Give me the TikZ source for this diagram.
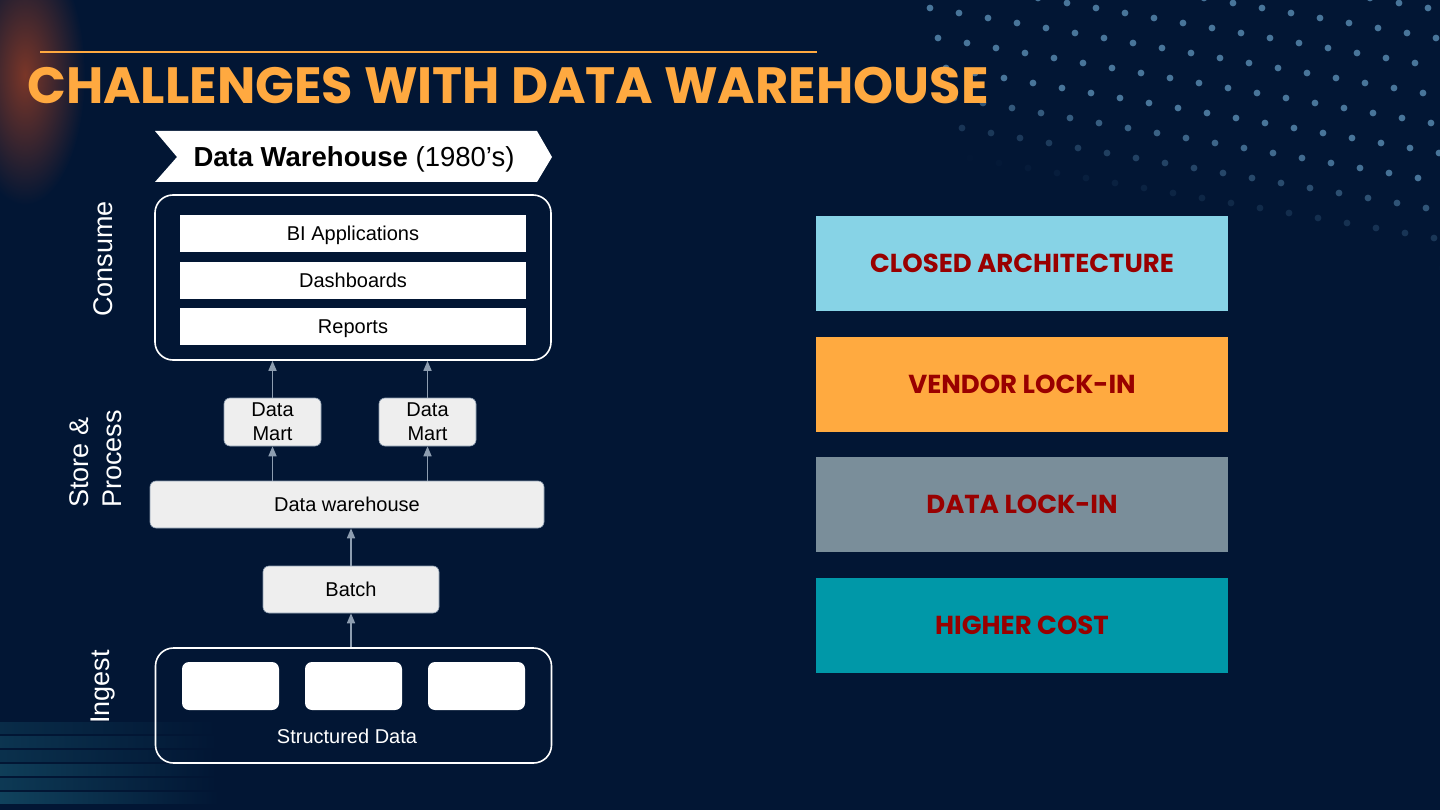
\documentclass[tikz,border=0pt]{standalone}
\usepackage{fontspec}
\setmainfont{Liberation Sans}
\newfontfamily\headfont{Poppins}
\usetikzlibrary{arrows.meta}
\definecolor{bgnavy}{HTML}{021634}
\definecolor{titleorange}{HTML}{FFA940}
\definecolor{lockred}{HTML}{990000}
\definecolor{boxgrey}{HTML}{EEEEEE}
\definecolor{arrowgrey}{HTML}{8D9DB0}
\definecolor{dotblue}{HTML}{5A8DB4}
\definecolor{glowred}{HTML}{7A3628}
\definecolor{stripeteal}{HTML}{1F6F86}
\definecolor{capblue}{HTML}{87D3E6}
\definecolor{caporange}{HTML}{FFAA40}
\definecolor{capgrey}{HTML}{7A8E9A}
\definecolor{capteal}{HTML}{0098A8}
\newcommand{\ChallengeBox}[4]{%
  \node[challenge,fill=#2] (#1) at (1022,#3) {#4};
}

\begin{document}
\begin{tikzpicture}[x=1pt,y=-1pt,
    layer/.style={draw=white,line width=1.6pt,rounded corners=18pt,
      minimum width=396pt},
    tool/.style={fill=white,minimum width=346pt,minimum height=37pt,
      inner sep=0pt,text height=14.3pt,text depth=0pt,
      font=\fontsize{20}{24}\selectfont},
    stage/.style={fill=boxgrey,draw=arrowgrey,line width=0.6pt,
      rounded corners=6pt,inner sep=0pt,minimum height=47pt,align=center,
      font=\fontsize{20}{24}\selectfont},
    source/.style={fill=white,rounded corners=7pt,minimum width=97pt,
      minimum height=48pt},
    flow/.style={draw=arrowgrey,line width=1.6pt,
      -{Triangle[length=10pt,width=8pt,fill=arrowgrey]}},
    sidelabel/.style={white,rotate=90,align=left,inner sep=0pt,
      font=\fontsize{27}{33}\selectfont},
    challenge/.style={minimum width=412pt,minimum height=95pt,inner sep=0pt,
      text=lockred,font=\headfont\bfseries\fontsize{26}{30}\selectfont}]
    \useasboundingbox (0,0) rectangle (1440,810);
    \clip (0,0) rectangle (1440,810);
    \fill[bgnavy] (0,0) rectangle (1440,810);

    % background decoration
    \shade[inner color=glowred,outer color=bgnavy] (25,75) ellipse [x radius=60, y radius=130];
    \foreach \sy/\sop in {722/0.25,736/0.35,750/0.3,764/0.45,778/0.4,792/0.5} {
      \shade[left color=stripeteal,right color=bgnavy,opacity=\sop] (0,\sy) rectangle (220,\sy+11);
    }
    \foreach \r in {-4,...,9}
      \foreach \c in {0,...,18} {
        \pgfmathsetmacro{\dx}{930+29*\c+8*\r}
        \pgfmathsetmacro{\dy}{8+30*\r+5*\c}
        \pgfmathsetmacro{\op}{min(0.8,max(0,(150+0.235*(\dx-930)-\dy)/110))}
        \fill[dotblue,opacity=\op] (\dx,\dy) circle (3.4);
      }

    % title
    \draw[titleorange,line width=2pt] (40,52) -- (817,52);
    \node[anchor=base west,inner sep=0pt,text=titleorange,
      font=\headfont\bfseries\fontsize{51}{58}\selectfont] (title) at (27,104)
      {CHALLENGES WITH DATA WAREHOUSE};

    % banner
    \fill[white] (155,131) -- (537,131) -- (552,157) -- (537,182)
      -- (155,182) -- (177,157) -- cycle;
    \node[anchor=base,font=\fontsize{27.5}{32}\selectfont] (banner) at (354,167)
      {\textbf{Data Warehouse} (1980's)};

    % consume
    \node[layer,minimum height=165pt] (consume) at (353,277.5) {};
    \node[tool] (bi) at (353,233.5) {BI Applications};
    \node[tool] (dash) at (353,280.5) {Dashboards};
    \node[tool] (rep) at (353,326.5) {Reports};

    % store & process
    \node[stage,minimum width=97pt,minimum height=48pt] (mart1) at (272.5,422) {Data\\Mart};
    \node[stage,minimum width=97pt,minimum height=48pt] (mart2) at (427.5,422) {Data\\Mart};
    \node[stage,minimum width=394pt,text height=14.3pt,text depth=0pt] (dwh) at (347,504.5) {Data warehouse};
    \node[stage,minimum width=176pt,text height=14.3pt,text depth=0pt] (batch) at (351,589.5) {Batch};

    % ingest
    \node[layer,minimum height=115pt] (ingest) at (353.5,705.5) {};
    \node[source] (src1) at (230.5,686) {};
    \node[source] (src2) at (353.5,686) {};
    \node[source] (src3) at (476.5,686) {};
    \node[white,font=\fontsize{20}{24}\selectfont] (structured) at (347,736) {Structured Data};

    \draw[flow] (mart1.north) -- (mart1.north |- consume.south);
    \draw[flow] (mart2.north) -- (mart2.north |- consume.south);
    \draw[flow] (dwh.north -| mart1) -- (mart1.south);
    \draw[flow] (dwh.north -| mart2) -- (mart2.south);
    \draw[flow] (batch.north) -- (batch.north |- dwh.south);
    \draw[flow] (ingest.north -| batch) -- (batch.south);

    \node[sidelabel] (consumelbl) at (103,259) {Consume};
    \node[sidelabel] (storelbl) at (96,459) {Store \&\\Process};
    \node[sidelabel] (ingestlbl) at (103,687) {Ingest};

    % challenges
    \ChallengeBox{closed}{capblue}{263.5}{CLOSED ARCHITECTURE}
    \ChallengeBox{vendor}{caporange}{384.5}{VENDOR LOCK-IN}
    \ChallengeBox{datalock}{capgrey}{504.5}{DATA LOCK-IN}
    \ChallengeBox{cost}{capteal}{625.5}{HIGHER COST}
  \end{tikzpicture}
\end{document}
